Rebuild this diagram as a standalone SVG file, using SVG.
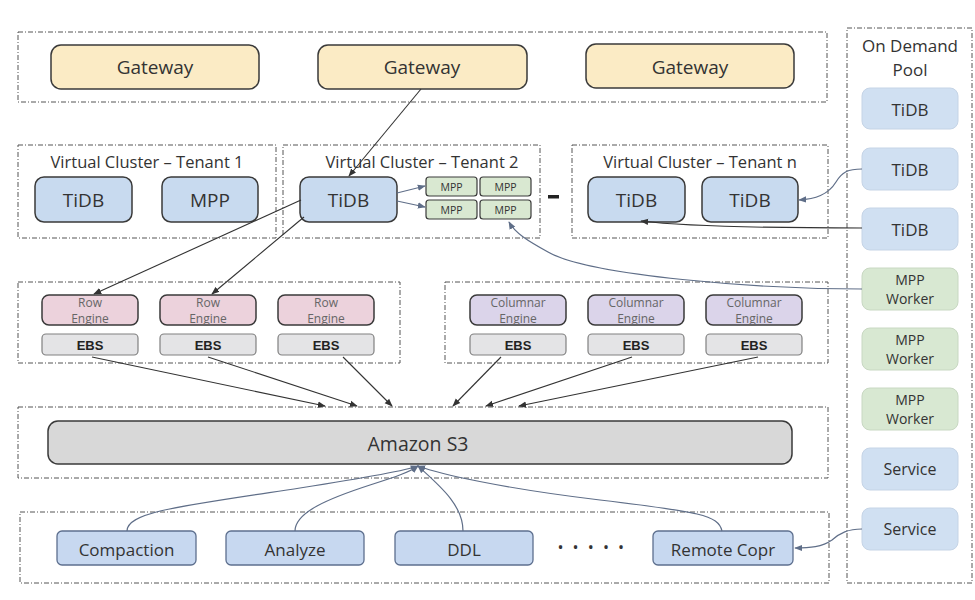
<svg xmlns="http://www.w3.org/2000/svg" width="975" height="600" viewBox="0 0 975 600">
<defs>
<style>
.grp{fill:none;stroke:#555;stroke-width:1;stroke-dasharray:5 2 1 2}
.t{font-family:"Open Sans","Liberation Sans",sans-serif;fill:#333;text-anchor:middle;dominant-baseline:central}
.sm{fill:#666}
.gw{fill:#fbebc5;stroke:#3a3a3a;stroke-width:1.5}
.vt{fill:#c8daef;stroke:#3a3a3a;stroke-width:1.5}
.pb{fill:#d0e0f2;stroke:#c5d4e6;stroke-width:1}
.pg{fill:#d8e8d2;stroke:#c8d8c2;stroke-width:1}
.mpp{fill:#d9e8d1;stroke:#3a3a3a;stroke-width:1.2}
.row{fill:#ecd2dc;stroke:#3a3a3a;stroke-width:1.5}
.col{fill:#dbd4ea;stroke:#3a3a3a;stroke-width:1.5}
.ebs{fill:#e4e4e6;stroke:#808080;stroke-width:1.2}
.bt{fill:#c7d8f0;stroke:#5d6f8e;stroke-width:1.3}
.s3{fill:#d8d8d8;stroke:#3a3a3a;stroke-width:1.5}
.eb{font-family:"Liberation Sans",Arial,sans-serif;font-weight:bold;fill:#222;font-size:13px;text-anchor:middle;dominant-baseline:central}
.k{fill:none;stroke:#333;stroke-width:1.1}
.b{fill:none;stroke:#5f6e88;stroke-width:1.2}
</style>
<marker id="ak" viewBox="0 0 10 10" refX="9" refY="5" markerWidth="8" markerHeight="8" orient="auto" markerUnits="userSpaceOnUse"><path d="M0,1 L10,5 L0,9 z" fill="#333"/></marker>
<marker id="ab" viewBox="0 0 10 10" refX="9" refY="5" markerWidth="8" markerHeight="8" orient="auto" markerUnits="userSpaceOnUse"><path d="M0,1 L10,5 L0,9 z" fill="#5f6e88"/></marker>
</defs>
<rect width="975" height="600" fill="#ffffff"/>

<g id="frames">
<rect class="grp" x="18" y="32" width="809" height="70"/>
<rect class="grp" x="18" y="145" width="258" height="93"/>
<rect class="grp" x="283" y="145" width="257" height="93"/>
<rect class="grp" x="572" y="145" width="256" height="93"/>
<rect class="grp" x="18" y="282" width="382" height="81"/>
<rect class="grp" x="445" y="282" width="383" height="81"/>
<rect class="grp" x="18" y="407" width="810" height="71"/>
<rect class="grp" x="20" y="512" width="809" height="71"/>
<rect class="grp" x="847" y="28" width="125" height="555"/>
</g>

<g id="gateways">
<g id="gw1"><rect class="gw" x="51" y="45" width="208" height="44" rx="10"/><text class="t" x="155" y="67" font-size="19">Gateway</text></g>
<g id="gw2"><rect class="gw" x="318" y="45" width="209" height="44" rx="10"/><text class="t" x="422" y="67" font-size="19">Gateway</text></g>
<g id="gw3"><rect class="gw" x="586" y="44" width="208" height="44" rx="10"/><text class="t" x="690" y="67" font-size="19">Gateway</text></g>
</g>

<g id="vc1">
<text class="t" x="147" y="161" font-size="16.5">Virtual Cluster – Tenant 1</text>
<g id="vc1-tidb"><rect class="vt" x="35" y="177" width="97" height="45" rx="9"/><text class="t" x="83.5" y="200" font-size="19">TiDB</text></g>
<g id="vc1-mpp"><rect class="vt" x="162" y="177" width="96" height="45" rx="9"/><text class="t" x="210" y="200" font-size="19">MPP</text></g>
</g>

<g id="vc2">
<text class="t" x="422" y="161" font-size="16.5">Virtual Cluster – Tenant 2</text>
<g id="vc2-tidb"><rect class="vt" x="300" y="177" width="97" height="45" rx="9"/><text class="t" x="348.5" y="200" font-size="19">TiDB</text></g>
<g id="vc2-mpp1"><rect class="mpp" x="426" y="177" width="51" height="19" rx="3"/><text class="t" x="451.5" y="186.5" font-size="10.5">MPP</text></g>
<g id="vc2-mpp2"><rect class="mpp" x="480" y="177" width="51" height="19" rx="3"/><text class="t" x="505.5" y="186.5" font-size="10.5">MPP</text></g>
<g id="vc2-mpp3"><rect class="mpp" x="426" y="200" width="51" height="19" rx="3"/><text class="t" x="451.5" y="209.5" font-size="10.5">MPP</text></g>
<g id="vc2-mpp4"><rect class="mpp" x="480" y="200" width="51" height="19" rx="3"/><text class="t" x="505.5" y="209.5" font-size="10.5">MPP</text></g>
</g>

<g id="sep"><rect x="548" y="195" width="11" height="3.5" fill="#222"/></g>

<g id="vcn">
<text class="t" x="700" y="161" font-size="16.5">Virtual Cluster – Tenant n</text>
<g id="vcn-tidb1"><rect class="vt" x="588" y="177" width="97" height="45" rx="9"/><text class="t" x="636.5" y="200" font-size="19">TiDB</text></g>
<g id="vcn-tidb2"><rect class="vt" x="702" y="177" width="96" height="45" rx="9"/><text class="t" x="750" y="200" font-size="19">TiDB</text></g>
</g>

<g id="pool">
<text class="t" x="910" y="45" font-size="17">On Demand</text>
<text class="t" x="910" y="69" font-size="17">Pool</text>
<g id="p-tidb1"><rect class="pb" x="862" y="88" width="96" height="41" rx="8"/><text class="t" x="910" y="109" font-size="17">TiDB</text></g>
<g id="p-tidb2"><rect class="pb" x="862" y="148" width="96" height="42" rx="8"/><text class="t" x="910" y="169" font-size="17">TiDB</text></g>
<g id="p-tidb3"><rect class="pb" x="862" y="208" width="96" height="42" rx="8"/><text class="t" x="910" y="229" font-size="17">TiDB</text></g>
<g id="p-mpp1"><rect class="pg" x="862" y="268" width="96" height="42" rx="8"/><text class="t" x="910" y="279" font-size="14">MPP</text><text class="t" x="910" y="298" font-size="14">Worker</text></g>
<g id="p-mpp2"><rect class="pg" x="862" y="328" width="96" height="42" rx="8"/><text class="t" x="910" y="339" font-size="14">MPP</text><text class="t" x="910" y="358" font-size="14">Worker</text></g>
<g id="p-mpp3"><rect class="pg" x="862" y="388" width="96" height="42" rx="8"/><text class="t" x="910" y="399" font-size="14">MPP</text><text class="t" x="910" y="418" font-size="14">Worker</text></g>
<g id="p-svc1"><rect class="pb" x="862" y="448" width="96" height="42" rx="8"/><text class="t" x="910" y="469" font-size="16">Service</text></g>
<g id="p-svc2"><rect class="pb" x="862" y="508" width="96" height="42" rx="8"/><text class="t" x="910" y="529" font-size="16">Service</text></g>
</g>

<g id="row-engines">
<g id="row1"><rect class="row" x="42" y="295" width="96" height="30" rx="7"/><text class="t sm" x="90" y="302" font-size="12">Row</text><text class="t sm" x="90" y="318" font-size="12">Engine</text></g>
<g id="row2"><rect class="row" x="160" y="295" width="96" height="30" rx="7"/><text class="t sm" x="208" y="302" font-size="12">Row</text><text class="t sm" x="208" y="318" font-size="12">Engine</text></g>
<g id="row3"><rect class="row" x="278" y="295" width="96" height="30" rx="7"/><text class="t sm" x="326" y="302" font-size="12">Row</text><text class="t sm" x="326" y="318" font-size="12">Engine</text></g>
<g id="ebs1"><rect class="ebs" x="42" y="334" width="96" height="21" rx="4"/><text class="eb" x="90" y="345">EBS</text></g>
<g id="ebs2"><rect class="ebs" x="160" y="334" width="96" height="21" rx="4"/><text class="eb" x="208" y="345">EBS</text></g>
<g id="ebs3"><rect class="ebs" x="278" y="334" width="96" height="21" rx="4"/><text class="eb" x="326" y="345">EBS</text></g>
</g>

<g id="col-engines">
<g id="col1"><rect class="col" x="470" y="295" width="96" height="30" rx="7"/><text class="t sm" x="518" y="302" font-size="12">Columnar</text><text class="t sm" x="518" y="318" font-size="12">Engine</text></g>
<g id="col2"><rect class="col" x="588" y="295" width="96" height="30" rx="7"/><text class="t sm" x="636" y="302" font-size="12">Columnar</text><text class="t sm" x="636" y="318" font-size="12">Engine</text></g>
<g id="col3"><rect class="col" x="706" y="295" width="96" height="30" rx="7"/><text class="t sm" x="754" y="302" font-size="12">Columnar</text><text class="t sm" x="754" y="318" font-size="12">Engine</text></g>
<g id="ebs4"><rect class="ebs" x="470" y="334" width="96" height="21" rx="4"/><text class="eb" x="518" y="345">EBS</text></g>
<g id="ebs5"><rect class="ebs" x="588" y="334" width="96" height="21" rx="4"/><text class="eb" x="636" y="345">EBS</text></g>
<g id="ebs6"><rect class="ebs" x="706" y="334" width="96" height="21" rx="4"/><text class="eb" x="754" y="345">EBS</text></g>
</g>

<g id="s3"><rect class="s3" x="48" y="421" width="744" height="43" rx="10"/><text class="t" x="418" y="443" font-size="19.5">Amazon S3</text></g>

<g id="services">
<g id="compaction"><rect class="bt" x="57" y="531" width="139" height="34" rx="5"/><text class="t" x="126.5" y="549" font-size="17">Compaction</text></g>
<g id="analyze"><rect class="bt" x="226" y="531" width="138" height="34" rx="5"/><text class="t" x="295" y="549" font-size="17">Analyze</text></g>
<g id="ddl"><rect class="bt" x="395" y="531" width="138" height="34" rx="5"/><text class="t" x="464" y="549" font-size="17">DDL</text></g>
<g id="dots"><text class="t" x="592" y="547" font-size="16" letter-spacing="2.5">• • • • •</text></g>
<g id="remote-copr"><rect class="bt" x="653" y="531" width="140" height="34" rx="5"/><text class="t" x="723" y="549" font-size="17">Remote Copr</text></g>
</g>

<g id="connectors">
<path class="k" d="M421,89 L349,176" marker-end="url(#ak)"/>
<path class="b" d="M397,193 L425,186" marker-end="url(#ab)"/>
<path class="b" d="M397,201 L425,207" marker-end="url(#ab)"/>
<path class="k" d="M301,200 L94,294" marker-end="url(#ak)"/>
<path class="k" d="M304,217 L212,294" marker-end="url(#ak)"/>
<path class="b" d="M862,169 C848,169 842,172 836,182 C828,195 815,199 799,200" marker-end="url(#ab)"/>
<path class="k" d="M862,228 C780,228 690,227 641,221" marker-end="url(#ak)"/>
<path class="b" d="M862,289 C760,289 590,276 548,252 C528,241 515,233 509,222" marker-end="url(#ab)"/>
<path class="k" d="M92,357 L325,406" marker-end="url(#ak)"/>
<path class="k" d="M208,357 L357,406" marker-end="url(#ak)"/>
<path class="k" d="M343,357 L392,406" marker-end="url(#ak)"/>
<path class="k" d="M501,357 L453,406" marker-end="url(#ak)"/>
<path class="k" d="M632,357 L486,406" marker-end="url(#ak)"/>
<path class="k" d="M758,357 L519,406" marker-end="url(#ak)"/>
<path class="b" d="M127,531 C127,512 180,506 300,488 C370,477 405,471 418,466" marker-end="url(#ab)"/>
<path class="b" d="M295,531 C295,512 330,498 370,485 C395,477 410,472 418,466" marker-end="url(#ab)"/>
<path class="b" d="M463,531 C463,505 440,486 418,466" marker-end="url(#ab)"/>
<path class="b" d="M722,531 C718,515 700,512 600,500 C500,488 440,474 418,466" marker-end="url(#ab)"/>
<path class="b" d="M862,529 C848,529 840,533 832,540 C822,547 810,548 795,548" marker-end="url(#ab)"/>
</g>
</svg>
